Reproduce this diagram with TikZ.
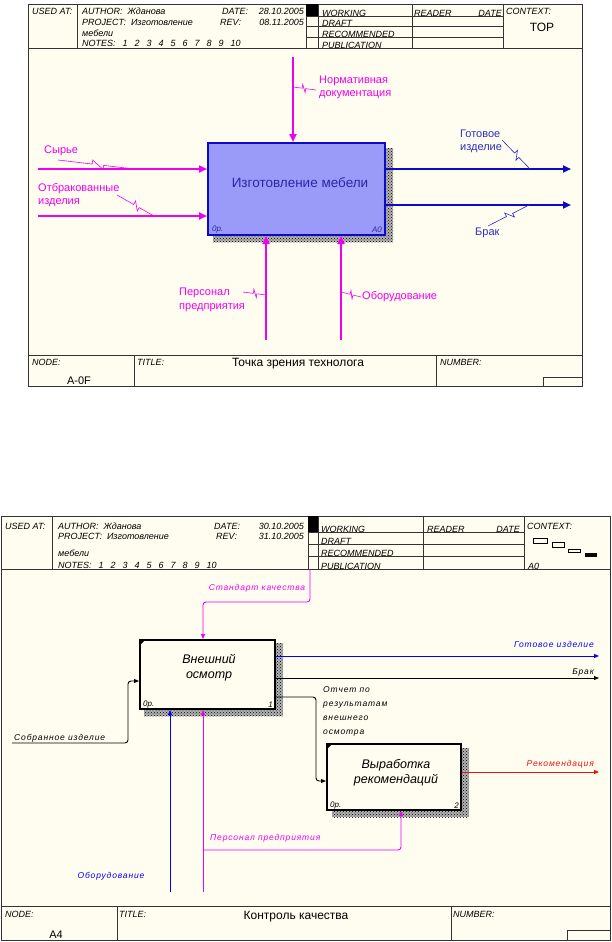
\documentclass[tikz,border=0pt]{standalone}
\usepackage{fontspec}
\setmainfont{Liberation Sans}
\newfontfamily\spacedsans[LetterSpace=10]{Liberation Sans}
\usetikzlibrary{arrows.meta,calc,patterns}

\definecolor{paper}{HTML}{FFFCF0}
\definecolor{pink}{HTML}{F000F0}
\definecolor{navy}{HTML}{0A0AC8}
\definecolor{boxfill}{HTML}{9A9AF8}
\definecolor{boxtext}{HTML}{2828A8}
\definecolor{labblue}{HTML}{2E2EC0}
\definecolor{arrred}{HTML}{F01010}

\tikzset{
  frame/.style={draw=black!80, line width=0.8pt},
  hdr/.style={font=\fontsize{9}{10}\selectfont\itshape, inner sep=0pt, anchor=base west},
  big/.style={font=\fontsize{11}{13}\selectfont, inner sep=0pt},
  lab/.style={font=\fontsize{11}{13.5}\selectfont, inner sep=0pt, anchor=west, align=left},
  labtwo/.style={font=\fontsize{8.5}{14.2}\spacedsans\itshape, inner sep=0pt},
  fat/.style={line width=2.6pt, -{Triangle[length=8pt,width=7pt]}},
  slim/.style={line width=0.9pt, -{Triangle[length=5pt,width=4pt]}, rounded corners=3pt},
  zig/.style={line width=0.6pt},
  hatch/.style={fill=black!30, postaction={pattern=crosshatch dots, pattern color=black}},
  corner/.style={font=\fontsize{8}{9}\selectfont\itshape, inner sep=0pt},
}
\newcommand{\squig}[3]{%
  \path (#2) -- (#3) coordinate[pos=0.45] (z1) coordinate[pos=0.6] (z2);
  \draw[zig,#1] (#2) -- (z1) -- ($(z1)!4pt!90:(#3)$) -- ($(z2)!4pt!-90:(#3)$) -- (z2) -- (#3);}
\newcommand{\nsp}{\hspace{7pt}}

\begin{document}
\begin{tikzpicture}[x=1pt,y=-1pt]
  \useasboundingbox (0,0) rectangle (611,942);
  \fill[white] (0,0) rectangle (611,942);

  % ---------- first sheet: TOP
  \fill[paper] (28,4) rectangle (582,386);
  \draw[frame] (28,4) rectangle (582,386);
  \draw[frame] (28,48) -- (582,48) (28,355) -- (582,355);
  \draw[frame] (77,4) -- (77,48) (306,4) -- (306,48) (318,4) -- (318,48) (412,4) -- (412,48) (503,4) -- (503,48);
  \foreach \y in {16,26,37} \draw[frame] (306,\y) -- (503,\y);
  \fill[black] (306,4) rectangle (318,16);
  \draw[frame] (134,355) -- (134,386) (436,355) -- (436,386);
  \draw[frame] (543,386) |- (582,377);

  \node[hdr] (usedA) at (32,15) {USED AT:};
  \node[hdr] (authA) at (82,15) {AUTHOR:\ \ Жданова};
  \node[hdr] (projA) at (82,25.5) {PROJECT:\ \ Изготовление};
  \node[hdr] (projA2) at (82,36.5) {мебели};
  \node[hdr] (notesA) at (82,47) {NOTES:\nsp 1\nsp 2\nsp 3\nsp 4\nsp 5\nsp 6\nsp 7\nsp 8\nsp 9\nsp 10};
  \node[hdr] (dateA) at (222,15) {DATE:};
  \node[hdr, anchor=base east] (dateAv) at (304,15) {28.10.2005};
  \node[hdr] (revA) at (220,25.5) {REV:};
  \node[hdr, anchor=base east] (revAv) at (304,25.5) {08.11.2005};
  \node[hdr] (workA) at (322,16.5) {WORKING};
  \node[hdr] (draftA) at (322,26.5) {DRAFT};
  \node[hdr] (recA) at (322,37.5) {RECOMMENDED};
  \node[hdr] (pubA) at (322,48.5) {PUBLICATION};
  \node[hdr] (readA) at (414,16.5) {READER};
  \node[hdr, anchor=base east] (rdateA) at (502,16.5) {DATE};
  \node[hdr] (ctxA) at (506,15) {CONTEXT:};
  \node[big, font=\fontsize{12}{13}\selectfont] (topA) at (542,27) {TOP};
  \node[hdr] (nodeA) at (32,365) {NODE:};
  \node[big] (nodeAv) at (79,381) {A-0F};
  \node[hdr] (titleA) at (137,365) {TITLE:};
  \node[big, font=\fontsize{12}{13}\selectfont] (titleAv) at (298,364) {Точка зрения технолога};
  \node[hdr] (numA) at (440,365) {NUMBER:};

  % box A0
  \fill[hatch] (386,148) rectangle (393,242);
  \fill[hatch] (213,236) rectangle (386,242);
  \node[draw=navy, line width=2pt, fill=boxfill, minimum width=177pt, minimum height=92pt, inner sep=0pt] (a0) at (296.5,189) {};
  \node[font=\fontsize{13.5}{15}\selectfont, text=boxtext, inner sep=0pt] (a0t) at (300,183) {Изготовление мебели};
  \node[corner, text=boxtext, anchor=south west] (a0op) at ($(a0.south west)+(5,-3)$) {0р.};
  \node[corner, text=boxtext, anchor=south east] (a0no) at ($(a0.south east)+(-4,-3)$) {A0};

  \coordinate (cn) at (293,57);
  \coordinate (in1) at (38,169);
  \coordinate (in2) at (38,216);
  \coordinate (out1) at (571,169);
  \coordinate (out2) at (571,205);
  \coordinate (mc1) at (266,340);
  \coordinate (mc2) at (341,340);
  \draw[fat, pink] (cn) -- (cn |- a0.north);
  \draw[fat, pink] (in1) -- (in1 -| a0.west);
  \draw[fat, pink] (in2) -- (in2 -| a0.west);
  \draw[fat, navy] (out1 -| a0.east) -- (out1);
  \draw[fat, navy] (out2 -| a0.east) -- (out2);
  \draw[fat, pink] (mc1) -- (mc1 |- a0.south);
  \draw[fat, pink] (mc2) -- (mc2 |- a0.south);

  \node[lab, text=pink] (normL) at (319,87.5) {Нормативная\\документация};
  \node[lab, text=pink] (rawL) at (44,151) {Сырье};
  \node[lab, text=pink] (rejL) at (38,195) {Отбракованные\\изделия};
  \node[lab, text=labblue] (prodL) at (460,141.5) {Готовое\\изделие};
  \node[lab, text=labblue] (scrapL) at (475,233) {Брак};
  \node[lab, text=pink] (staffL) at (179,300) {Персонал\\предприятия};
  \node[lab, text=pink] (equipL) at (362,297) {Оборудование};
  \squig{pink}{316,90}{293,87}
  \squig{pink}{58,160}{134,169}
  \squig{pink}{117,195}{154,216}
  \squig{labblue}{502,140}{530,169}
  \squig{labblue}{488,226}{529,205}
  \squig{pink}{243,292}{266,295}
  \squig{pink}{341,292}{361,297}

  % ---------- second sheet: A0
  \fill[paper] (1,516) rectangle (610,940);
  \draw[frame] (1,516) rectangle (610,940);
  \draw[frame] (1,569) -- (610,569) (1,906) -- (610,906);
  \draw[frame] (52,516) -- (52,569) (308,516) -- (308,569) (318,516) -- (318,569) (423,516) -- (423,569) (524,516) -- (524,569);
  \foreach \y in {532,544,556} \draw[frame] (308,\y) -- (524,\y);
  \fill[black] (308,516) rectangle (318,532);
  \draw[frame] (117,906) -- (117,940) (451,906) -- (451,940);
  \draw[frame] (567,940) |- (610,930);
  \draw[line width=0.6pt] (533,538) rectangle (547,543) (552,542) rectangle (564,547) (568,549) rectangle (580,552);
  \fill[black] (585,553) rectangle (597,557);

  \node[hdr] (usedB) at (5,529) {USED AT:};
  \node[hdr] (authB) at (58,529) {AUTHOR:\ \ Жданова};
  \node[hdr] (projB) at (58,539) {PROJECT:\ \ Изготовление};
  \node[hdr] (projB2) at (58,556) {мебели};
  \node[hdr] (notesB) at (58,568.5) {NOTES:\nsp 1\nsp 2\nsp 3\nsp 4\nsp 5\nsp 6\nsp 7\nsp 8\nsp 9\nsp 10};
  \node[hdr] (dateB) at (214,529) {DATE:};
  \node[hdr, anchor=base east] (dateBv) at (304,529) {30.10.2005};
  \node[hdr] (revB) at (216,539) {REV:};
  \node[hdr, anchor=base east] (revBv) at (304,539) {31.10.2005};
  \node[hdr] (workB) at (321,532.5) {WORKING};
  \node[hdr] (draftB) at (321,544.5) {DRAFT};
  \node[hdr] (recB) at (321,556.5) {RECOMMENDED};
  \node[hdr] (pubB) at (321,569.5) {PUBLICATION};
  \node[hdr] (readB) at (427,532.5) {READER};
  \node[hdr, anchor=base east] (rdateB) at (520,532.5) {DATE};
  \node[hdr] (ctxB) at (527,529) {CONTEXT:};
  \node[hdr] (ctxBv) at (528,569.5) {A0};
  \node[hdr] (nodeB) at (5,917) {NODE:};
  \node[big] (nodeBv) at (56,935) {A4};
  \node[hdr] (titleB) at (119,917) {TITLE:};
  \node[big, font=\fontsize{12}{13}\selectfont] (titleBv) at (296,917) {Контроль качества};
  \node[hdr] (numB) at (453,917) {NUMBER:};

  % boxes 1 and 2
  \fill[hatch] (276,643) rectangle (283,716);
  \fill[hatch] (144,710) rectangle (276,716);
  \fill[hatch] (462,748) rectangle (469,817);
  \fill[hatch] (332,811) rectangle (462,817);
  \node[draw, fill=paper, line width=2pt, minimum width=135pt, minimum height=69pt, inner sep=0pt] (a1) at (207.5,674.5) {};
  \node[draw, fill=paper, line width=2pt, minimum width=134pt, minimum height=66pt, inner sep=0pt] (a2) at (394,777) {};
  \fill (a1.north west) ++(1,1) -- ++(5,0) -- ++(-5,5) -- cycle;
  \fill (a2.north west) ++(1,1) -- ++(5,0) -- ++(-5,5) -- cycle;
  \node[font=\fontsize{12.5}{15}\selectfont\itshape, align=center, inner sep=0pt] (a1t) at (209,667.5) {Внешний\\осмотр};
  \node[font=\fontsize{12.5}{15}\selectfont\itshape, align=center, inner sep=0pt] (a2t) at (396,772.5) {Выработка\\рекомендаций};
  \node[corner, anchor=south west] (a1op) at ($(a1.south west)+(4,-2)$) {0р.};
  \node[corner, anchor=south east] (a1no) at ($(a1.south east)+(-3,-2)$) {1};
  \node[corner, anchor=south west] (a2op) at ($(a2.south west)+(4,-2)$) {0р.};
  \node[corner, anchor=south east] (a2no) at ($(a2.south east)+(-3,-2)$) {2};

  \coordinate (std) at (310,569);
  \coordinate (stdb) at (203,602);
  \coordinate (gd) at (599,656);
  \coordinate (br) at (599,678);
  \coordinate (ot1) at (276,697);
  \coordinate (ot2) at (316,781);
  \coordinate (rk) at (599,772);
  \coordinate (sb) at (12,743);
  \coordinate (sb2) at (128,681);
  \coordinate (ob) at (170,892);
  \coordinate (ps) at (203,892);
  \coordinate (psb) at (203,850);
  \coordinate (pst) at (401,850);
  \draw[slim, pink] (std) |- (stdb) -- (stdb |- a1.north);
  \draw[slim, blue] (gd -| a1.east) -- (gd);
  \draw[slim, black] (br -| a1.east) -- (br);
  \draw[slim, black] (ot1) -| (ot2) -- (ot2 -| a2.west);
  \draw[slim, arrred] (rk -| a2.east) -- (rk);
  \draw[slim, black] (sb) -| (sb2) -- (sb2 -| a1.west);
  \draw[slim, blue] (ob) -- (ob |- a1.south);
  \draw[slim, pink] (ps) -- (ps |- a1.south);
  \draw[slim, pink] (psb) -- (pst) -- (pst |- a2.south);

  \node[labtwo, text=pink] (stdL) at (257,588) {Стандарт качества};
  \node[labtwo, text=blue, anchor=east] (gdL) at (594,644) {Готовое изделие};
  \node[labtwo, anchor=east] (brL) at (594,672) {Брак};
  \node[labtwo, anchor=north west, align=left] (otL) at (323,686) {Отчет по\\результатам\\внешнего\\осмотра};
  \node[labtwo, text=arrred, anchor=east] (rkL) at (594,764) {Рекомендация};
  \node[labtwo, anchor=west] (sbL) at (14,738) {Собранное изделие};
  \node[labtwo, text=blue] (obL) at (111,876) {Оборудование};
  \node[labtwo, text=pink, anchor=west] (psL) at (210,838) {Персонал предприятия};
\end{tikzpicture}
\end{document}
